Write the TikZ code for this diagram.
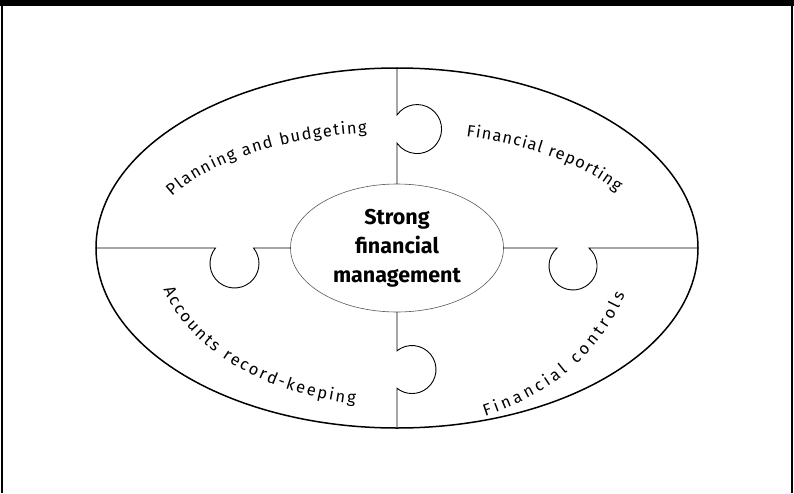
\documentclass[tikz,border=0pt]{standalone}
\usepackage{fontspec}
\setmainfont{Fira Sans}
\usetikzlibrary{shapes.geometric,decorations.text}

\newcommand{\arcfont}{\fontsize{16.5}{19}\selectfont}

\begin{document}
\begin{tikzpicture}[x=1pt,y=1pt,
    board/.style={draw, ellipse, line width=1.5pt, inner sep=0pt, outer sep=0pt},
    hub/.style={draw=black!65, ellipse, line width=0.6pt, inner sep=0pt, outer sep=0pt,
      align=center, font=\bfseries\fontsize{21.5}{29}\selectfont},
    cut/.style={line width=0.9pt},
    along/.style={decorate, decoration={text along path, text align={fit to path}, text={|\arcfont|#1}}}]
  \useasboundingbox (-397,-245) rectangle (397,248);
  % page frame: heavy top rule, thin sides
  \fill (-397,242) rectangle (397,248);
  \draw[line width=1.5pt] (-395,-245) -- (-395,242) (395,-245) -- (395,242);

  \node[board, minimum width=602pt, minimum height=360pt] (outer) at (0,0) {};
  \node[hub, minimum width=213pt, minimum height=128pt] (centre) at (0,0) {Strong\\financial\\management};

  % jigsaw cuts, one tab each
  \draw[cut] (outer.north) -- (0,133) arc[start angle=145, end angle=-145, radius=24.5] -- (centre.north);
  \draw[cut] (centre.south) -- (0,-102.8) arc[start angle=128.7, end angle=-128.7, radius=24] -- (outer.south);
  \draw[cut] (outer.west) -- (-181.5,0) arc[start angle=140.8, end angle=399.2, radius=24.5] -- (centre.west);
  \draw[cut] (centre.east) -- (160.1,0) arc[start angle=131.5, end angle=408.5, radius=24] -- (outer.east);

  % piece names
  \path[along={Planning and budgeting}] (153.7:251 and 116) arc[start angle=153.7, end angle=96.9, x radius=251, y radius=116];
  \path[along={Financial reporting}] (74:251 and 116) arc[start angle=74, end angle=28.8, x radius=251, y radius=116];
  \path[along={Accounts record-keeping}] (195:241.7 and 158.4) arc[start angle=195, end angle=260, x radius=241.7, y radius=158.4];
  \path[along={Financial controls}] (88,-168) .. controls (156,-146) and (203,-105) .. (228,-47);
\end{tikzpicture}
\end{document}
